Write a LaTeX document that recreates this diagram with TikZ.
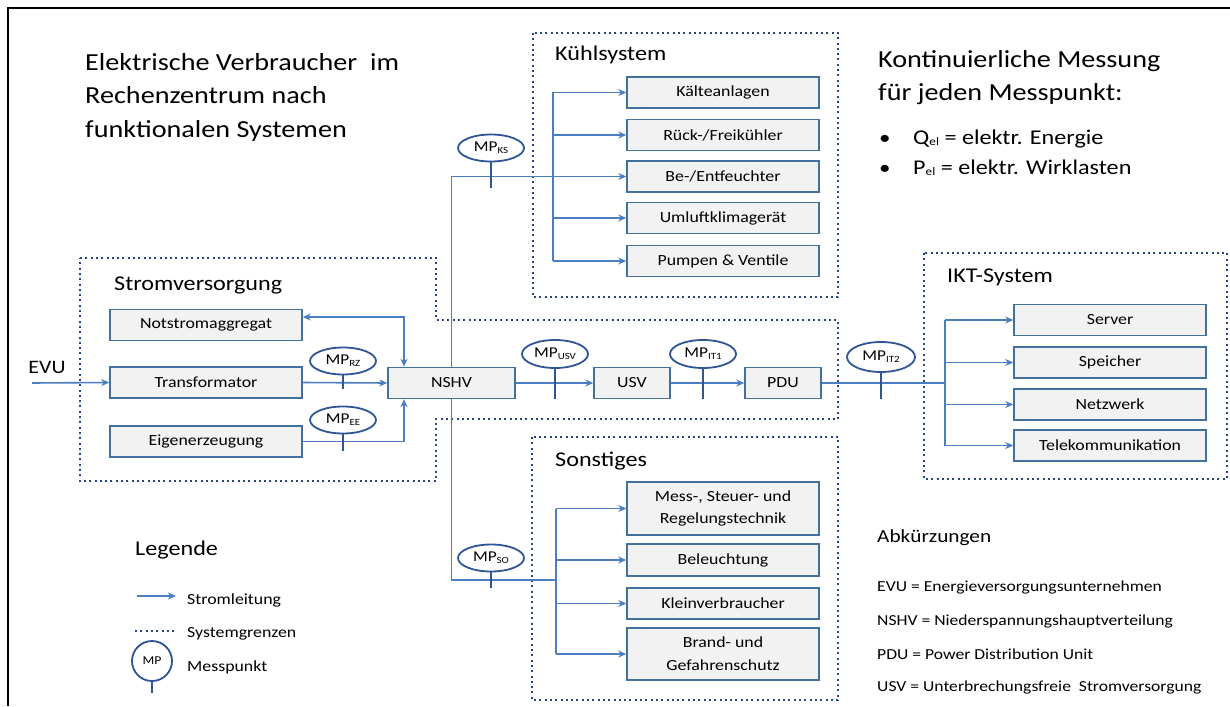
\documentclass[tikz,border=0pt]{standalone}
\usepackage{fontspec}
\setmainfont{Carlito}[FakeStretch=1.15]
\usetikzlibrary{arrows.meta,shapes.geometric}
\definecolor{boxdraw}{RGB}{65,113,156}
\definecolor{boxfill}{RGB}{242,242,242}
\definecolor{linecol}{RGB}{74,126,193}
\definecolor{dotcol}{RGB}{38,68,135}
\definecolor{mpdraw}{RGB}{47,85,151}
\newcommand{\fs}[1]{\fontsize{#1}{#1}\selectfont}
\newcommand{\fsb}[2]{\fontsize{#1}{#2}\selectfont}
\newcommand{\mpl}[1]{MP\raisebox{-2pt}{\fontsize{9.5}{9.5}\selectfont #1}}
\newcommand{\elsub}{\raisebox{-1pt}{\fontsize{11.5}{11.5}\selectfont el}}
\begin{document}
\begin{tikzpicture}[x=1pt,y=-1pt,
  box/.style={draw=boxdraw, fill=boxfill, line width=1.5pt, minimum height=31pt, inner sep=0pt, font=\fs{15.5}, align=center},
  wbox/.style={box, minimum width=192pt},
  mp/.style={ellipse, draw=mpdraw, line width=1.8pt, fill=white, minimum width=66pt, minimum height=27pt, inner sep=0pt, font=\fs{15}},
  stem/.style={draw=mpdraw, line width=1.5pt},
  wire/.style={draw=linecol, line width=1.6pt},
  arr/.style={wire, -{Stealth[length=8pt,width=7pt]}},
  sysb/.style={draw=dotcol, line width=2.4pt, dash pattern=on 2pt off 3.3pt},
  ttl/.style={anchor=west, font=\fs{21}, inner sep=0pt},
  txt/.style={anchor=base west, inner sep=0pt},
]
\useasboundingbox (0,0) rectangle (1230,706);
\fill[white] (0,0) rectangle (1230,706);
% frame
\coordinate (fr1) at (8,706);
\coordinate (fr2) at (8,8);
\coordinate (fr3) at (1230,8);
\draw[line width=2.5pt] (fr1) -- (fr2) -- (fr3);

% system boundaries
\draw[sysb] (533,33) rectangle (838,297);
\draw[sysb] (80,258) -- (436,258) -- (436,320) -- (838,320) -- (838,419) -- (436,419) -- (436,481) -- (80,481) -- cycle;
\draw[sysb] (924,253) rectangle (1227,479);
\draw[sysb] (532,437) rectangle (838,700);

% titles
\node[txt, font=\fs{24.5}] (t1) at (85,71) {Elektrische Verbraucher\ \ im};
\node[txt, font=\fs{24.5}] (t2) at (85,104) {Rechenzentrum\ nach};
\node[txt, font=\fs{24.5}] (t3) at (85,137) {funktionalen Systemen};

\node[txt, font=\fs{24.5}] (k1) at (878,68) {Kontinuierliche Messung};
\node[txt, font=\fs{24.5}] (k2) at (878,101) {für jeden Messpunkt:};
\node[txt, font=\fs{20}] (b1) at (879,144) {•};
\node[txt, font=\fs{21}] (q1) at (913,144) {Q\elsub\ = elektr. Energie};
\node[txt, font=\fs{20}] (b2) at (879,174) {•};
\node[txt, font=\fs{21}] (p1) at (913,174) {P\elsub\ = elektr. Wirklasten};

\node[ttl] (tks) at (555,55) {Kühlsystem};
\node[ttl] (tsv) at (114,285) {Stromversorgung};
\node[ttl] (tikt) at (947,277) {IKT-System};
\node[ttl] (tso) at (555,461) {Sonstiges};

% Kuehlsystem
\node[wbox] (kal) at (723,92.5) {Kälteanlagen};
\node[wbox] (rueck) at (723,135) {Rück-/Freikühler};
\node[wbox] (ent) at (723,176.5) {Be-/Entfeuchter};
\node[wbox] (uml) at (723,218) {Umluftklimagerät};
\node[wbox] (pump) at (723,261) {Pumpen \& Ventile};

% Stromversorgung
\node[wbox] (not) at (206,325) {Notstromaggregat};
\node[wbox] (trafo) at (206,382.5) {Transformator};
\node[wbox] (eigen) at (206,441.5) {Eigenerzeugung};
\node[box, minimum width=127pt] (nshv) at (451.5,383) {NSHV};
\node[box, minimum width=76pt] (usv) at (632,383) {USV};
\node[box, minimum width=76pt] (pdu) at (783,383) {PDU};

% IKT
\node[wbox] (server) at (1110,320) {Server};
\node[wbox] (speicher) at (1110,362.5) {Speicher};
\node[wbox] (netz) at (1110,404.5) {Netzwerk};
\node[wbox] (tele) at (1110,445.5) {Telekommunikation};

% Sonstiges
\node[wbox, minimum height=53pt, font=\fsb{15.5}{22}] (mess) at (723,508.5) {Mess-, Steuer- und\\Regelungstechnik};
\node[wbox, minimum height=32pt] (bel) at (723,560) {Beleuchtung};
\node[wbox] (klein) at (723,603.5) {Kleinverbraucher};
\node[wbox, minimum height=52pt, font=\fsb{15.5}{23}] (brand) at (723,654) {Brand- und\\Gefahrenschutz};

% EVU
\node[font=\fs{19}, inner sep=0pt] (evu) at (47,367) {EVU};
\coordinate (evuin) at (32,383);
\draw[arr] (evuin) -- (trafo.west);

% Stromversorgung wiring
\draw[arr] (trafo.east) -- (nshv.west);
\draw[arr] (eigen.east) -| ([xshift=-47.5pt]nshv.south);
\draw[wire, {Stealth[length=8pt,width=7pt]}-{Stealth[length=8pt,width=7pt]}] ([yshift=8pt]not.east) -| ([xshift=-47.5pt]nshv.north);

% main line
\draw[arr] (nshv.east) -- (usv.west);
\draw[arr] (usv.east) -- (pdu.west);
\coordinate (ibx) at (945,383);
\draw[wire] (pdu.east) -- (ibx);
\draw[wire] (ibx |- server.west) -- (ibx |- tele.west);
\foreach \n in {server,speicher,netz,tele} \draw[arr] (ibx |- \n.west) -- (\n.west);

% Kuehlsystem wiring
\coordinate (kbx) at (553,0);
\draw[wire] (kbx |- kal.west) -- (kbx |- pump.west);
\foreach \n in {kal,rueck,uml,pump} \draw[arr] (kbx |- \n.west) -- (\n.west);
\draw[arr] (nshv.north) |- (ent.west);

% Sonstiges wiring
\coordinate (sbx) at (556,0);
\coordinate (sjoin) at (556,580);
\draw[wire] (sbx |- mess.west) -- (sbx |- brand.west);
\foreach \n in {mess,bel,klein,brand} \draw[arr] (sbx |- \n.west) -- (\n.west);
\draw[wire] (nshv.south) |- (sjoin);

% measuring points
\node[mp] (mpks) at (491,148) {\mpl{KS}};
\draw[stem] (mpks.south) -- ++(0,26);
\node[mp] (mprz) at (343,361) {\mpl{RZ}};
\draw[stem] (mprz.south) -- ++(0,14);
\node[mp] (mpee) at (343,420) {\mpl{EE}};
\draw[stem] (mpee.south) -- ++(0,17);
\node[mp, minimum height=28pt] (mpusv) at (555,354) {\mpl{USV}};
\draw[stem] (mpusv.south) -- ++(0,30);
\node[mp, minimum height=28pt] (mpit1) at (703,354) {\mpl{IT1}};
\draw[stem] (mpit1.south) -- ++(0,30);
\node[mp, minimum height=30pt, minimum width=68pt] (mpit2) at (881,357) {\mpl{IT2}};
\draw[stem] (mpit2.south) -- ++(0,26);
\node[mp] (mpso) at (491,558) {\mpl{SO}};
\draw[stem] (mpso.south) -- ++(0,16);

% legend
\node[txt, font=\fs{21}] (leg) at (135,555) {Legende};
\coordinate (la1) at (137,596);
\coordinate (la2) at (176,596);
\draw[arr] (la1) -- (la2);
\node[anchor=west, inner sep=0pt, font=\fs{15.5}] (lt1) at (187,600) {Stromleitung};
\coordinate (ld1) at (135,631);
\coordinate (ld2) at (177,631);
\draw[sysb] (ld1) -- (ld2);
\node[anchor=west, inner sep=0pt, font=\fs{15.5}] (lt2) at (187,634) {Systemgrenzen};
\node[circle, draw=mpdraw, line width=1.8pt, minimum size=40pt, inner sep=0pt, font=\fs{12}] (lmp) at (152,661) {MP};
\draw[stem] (lmp.south) -- ++(0,11);
\node[anchor=west, inner sep=0pt, font=\fs{15.5}] (lt3) at (187,667) {Messpunkt};

% abbreviations
\node[anchor=west, inner sep=0pt, font=\fs{18.5}] (abk) at (877,538) {Abkürzungen};
\node[anchor=west, inner sep=0pt, font=\fs{15.3}] (a1) at (877,587) {EVU = Energieversorgungsunternehmen};
\node[anchor=west, inner sep=0pt, font=\fs{15.3}] (a2) at (877,621) {NSHV = Niederspannungshauptverteilung};
\node[anchor=west, inner sep=0pt, font=\fs{15.3}] (a3) at (877,654) {PDU = Power Distribution Unit};
\node[anchor=west, inner sep=0pt, font=\fs{15.3}] (a4) at (877,687) {USV = Unterbrechungsfreie\ \ Stromversorgung};
\end{tikzpicture}
\end{document}
